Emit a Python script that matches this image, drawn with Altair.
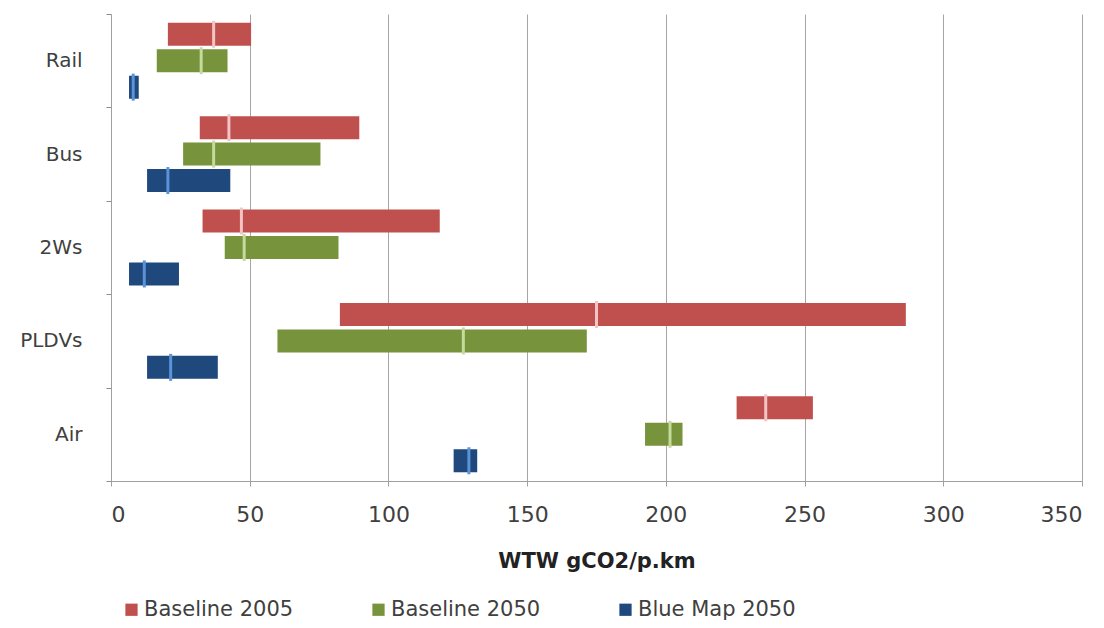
import altair as alt
import pandas as pd

categories = ["Rail", "Bus", "2Ws", "PLDVs", "Air"]
series = ["Baseline 2005", "Baseline 2050", "Blue Map 2050"]

# low, high, mid per category for each series
base2005_low = [20.5, 32, 33, 82.5, 225.5]
base2005_high = [50.5, 89.5, 118.5, 286.5, 253]
base2005_mid = [37, 42.5, 47, 175, 236]

base2050_low = [16.5, 26, 41, 60, 192.5]
base2050_high = [42, 75.5, 82, 171.5, 206]
base2050_mid = [32.5, 37, 48, 127, 201.5]

blue2050_low = [6.5, 13, 6.5, 13, 123.5]
blue2050_high = [10, 43, 24.5, 38.5, 132]
blue2050_mid = [8, 20.5, 12, 21.5, 129]

bar_colors = ["#C0504D", "#77933C", "#1F497D"]
mid_colors = ["#F2C4C4", "#C6DA9E", "#5B93D8"]
x_ticks = [0, 50, 100, 150, 200, 250, 300, 350]

rows = []
for s, lo, hi, md in [
    (series[0], base2005_low, base2005_high, base2005_mid),
    (series[1], base2050_low, base2050_high, base2050_mid),
    (series[2], blue2050_low, blue2050_high, blue2050_mid),
]:
    for c, a, b, m in zip(categories, lo, hi, md):
        rows.append({"cat": c, "series": s, "low": a, "high": b, "mid": m})
df = pd.DataFrame(rows)

FONT = "DejaVu Sans"

y_axis = alt.Axis(
    tickBand="extent",
    tickSize=5,
    tickColor="#8c8c8c",
    domainColor="#a0a0a0",
    labelFont=FONT,
    labelFontSize=20,
    labelColor="#404040",
    labelPadding=24,
    grid=False,
)
y_scale = alt.Scale(paddingInner=0, paddingOuter=0)
yoff_scale = alt.Scale(paddingInner=0.13, paddingOuter=0.33)
x_scale = alt.Scale(domain=[0, 350], nice=False)
x_axis = alt.Axis(
    values=x_ticks,
    tickSize=5,
    tickColor="#a0a0a0",
    domainColor="#a0a0a0",
    grid=True,
    gridColor="#a6a6a6",
    gridWidth=1,
    labelFont=FONT,
    labelFontSize=22,
    labelColor="#404040",
    labelPadding=18,
    titleFont=FONT,
    titleFontSize=21,
    titleFontWeight="bold",
    titleColor="#222222",
    titlePadding=25,
)
X_TITLE = "WTW gCO2/p.km"

bars = alt.Chart(df).mark_bar(cornerRadius=0).encode(
    y=alt.Y("cat:N", sort=categories, title=None, scale=y_scale, axis=y_axis),
    yOffset=alt.YOffset("series:N", sort=series, scale=yoff_scale),
    x=alt.X("low:Q", scale=x_scale, title=X_TITLE, axis=x_axis),
    x2="high:Q",
    color=alt.Color(
        "series:N",
        sort=series,
        scale=alt.Scale(domain=series, range=bar_colors),
        legend=alt.Legend(
            title=None,
            orient="none",
            direction="horizontal",
            legendX=10,
            legendY=585,
            symbolType="square",
            symbolSize=150,
            symbolStrokeWidth=0,
            labelFont=FONT,
            labelFontSize=21,
            labelColor="#404040",
            labelOffset=2,
            columnPadding=74,
        ),
    ),
)

mids = alt.Chart(df).mark_tick(thickness=3, size=27, opacity=1).encode(
    y=alt.Y("cat:N", sort=categories, title=None, scale=y_scale, axis=y_axis),
    yOffset=alt.YOffset("series:N", sort=series, scale=yoff_scale),
    x=alt.X("mid:Q", scale=x_scale, title=X_TITLE, axis=x_axis),
    color=alt.Color(
        "series:N",
        sort=series,
        scale=alt.Scale(domain=series, range=mid_colors),
        legend=None,
    ),
)

chart = (
    alt.layer(bars, mids)
    .resolve_scale(color="independent")
    .properties(
        width=971,
        height=467,
        autosize=alt.AutoSizeParams(type="none"),
        padding={"left": 103, "top": 6, "right": 10, "bottom": 139},
        view=alt.ViewBackground(strokeWidth=0, stroke="transparent"),
    )
    .configure_view(stroke="transparent", strokeWidth=0)
    .configure(background="white")
)

chart.save("out.html", embed_options={"renderer": "svg", "actions": False})
